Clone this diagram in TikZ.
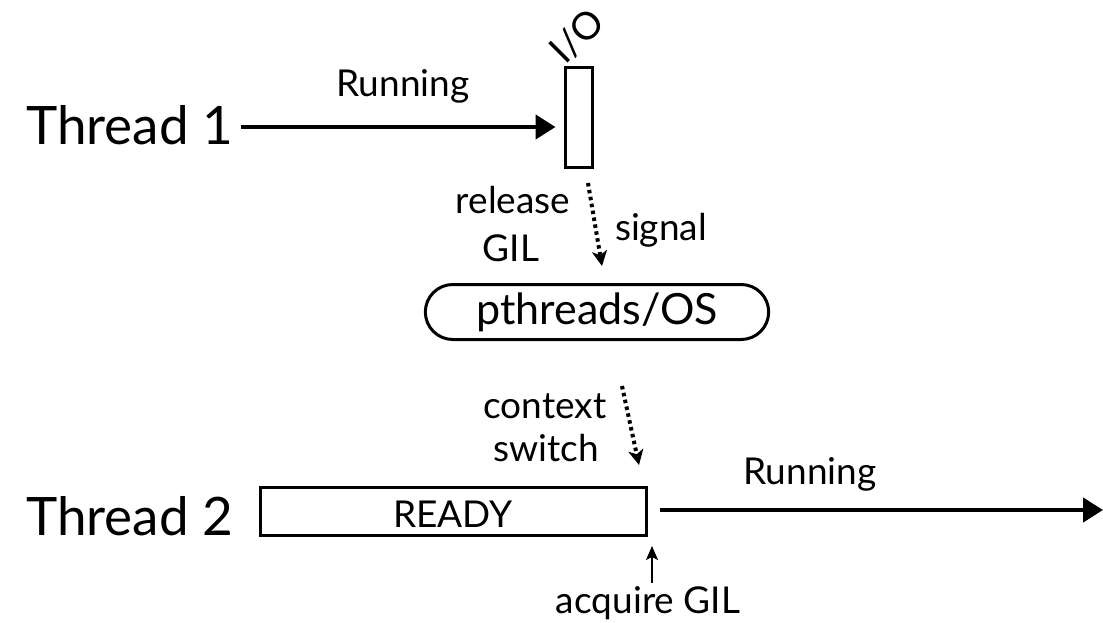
\documentclass[tikz,border=0pt]{standalone}
\usepackage{fontspec}
\setmainfont{Lato}
\usetikzlibrary{arrows.meta,shapes.misc}
\begin{document}
\begin{tikzpicture}[x=1pt,y=-1pt,
  big/.style={font=\fontsize{53}{58}\selectfont, inner sep=0pt, anchor=base west},
  lbl/.style={font=\fontsize{37}{40}\selectfont, inner sep=0pt, anchor=base},
  flow/.style={line width=4.5pt, -{Triangle[length=20pt,width=24pt]}},
  hint/.style={line width=4pt, dash pattern=on 3.5pt off 3.5pt, -{Stealth[length=15pt,width=15pt,inset=4pt]}},
  box/.style={draw, line width=3pt, inner sep=0pt}]
\useasboundingbox (0,0) rectangle (1103,623);

% Thread 1
\node[big] (t1) at (26,145) {Thread 1};
\node[box, minimum width=27pt, minimum height=99pt] (io) at (578.5,117.5) {};
\node[font=\fontsize{38}{40}\selectfont, inner sep=0pt, rotate=45] (iolbl) at (577,36) {I/O};
\coordinate (t1s) at (241,127);
\draw[flow] (t1s) -- ([xshift=-8pt]t1s -| io.west);
\node[lbl] (run1) at (403,97) {Running};

% release GIL / signal
\coordinate (rs) at (588,183);
\coordinate (re) at (602,266);
\draw[hint] (rs) -- (re);
\node[lbl] (rel) at (513,213) {release};
\node[lbl] (gil) at (511,261) {GIL};
\node[lbl] (sig) at (661,240) {signal};

% OS
\node[draw, line width=3pt, rounded rectangle, minimum width=350pt, minimum height=55pt,
      font=\fontsize{43}{46}\selectfont] (os) at (597,312) {pthreads/OS};

% context switch
\coordinate (cs) at (622,386);
\coordinate (ce) at (639,465);
\draw[hint] (cs) -- (ce);
\node[lbl] (ctx) at (545,418) {context};
\node[lbl] (sw) at (546,461) {switch};

% Thread 2
\node[big] (t2) at (26,535) {Thread 2};
\node[box, minimum width=386pt, minimum height=48pt] (ready) at (453,511) {};
\node[lbl] (readylbl) at (453,527) {READY};
\coordinate (t2s) at (660,510);
\coordinate (t2e) at (1103,510);
\draw[flow] (t2s) -- (t2e);
\node[lbl] (run2) at (810,484) {Running};

% acquire GIL
\node[lbl] (acq) at (648,613) {acquire GIL};
\coordinate (as) at (652,583);
\coordinate (ae) at (652,546);
\draw[line width=2pt, -{Stealth[length=14pt,width=12pt,inset=3pt]}] (as) -- (ae);
\end{tikzpicture}
\end{document}
